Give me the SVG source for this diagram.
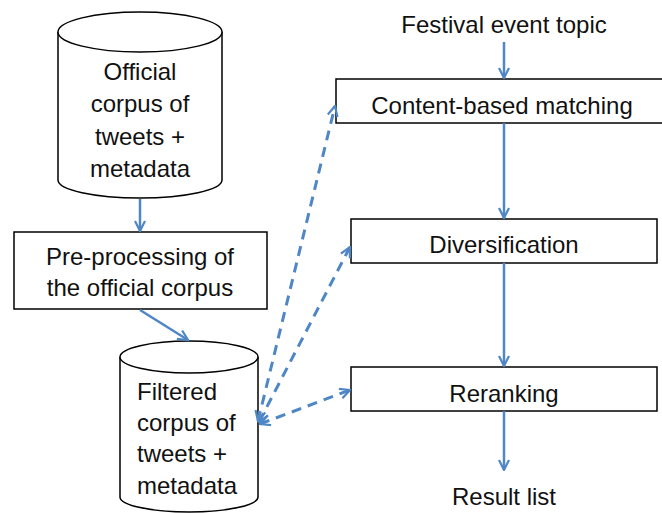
<svg xmlns="http://www.w3.org/2000/svg" width="662" height="513" viewBox="0 0 662 513">
<style>
.t{font-family:"Liberation Sans",Arial,sans-serif;font-size:24px;fill:#111}
.c{text-anchor:middle}
.shape{fill:#fff;stroke:#000;stroke-width:1.5}
.flow{stroke:#4f86c6;stroke-width:2.5;fill:none}
.dash{stroke:#4f86c6;stroke-width:3;fill:none;stroke-dasharray:10 7}
</style>
<defs>
<marker id="ah" viewBox="0 0 12 12" refX="11" refY="6" markerWidth="12" markerHeight="12" markerUnits="userSpaceOnUse" orient="auto-start-reverse">
<path d="M1,1 L11,6 L1,11" fill="none" stroke="#4f86c6" stroke-width="2.2"/>
</marker>
</defs>
<rect width="662" height="513" fill="#fff"/>
<g id="official-corpus">
<path class="shape" d="M58,32 L58,180 A82,18 0 0 0 222,180 L222,32"/>
<ellipse class="shape" cx="140" cy="32" rx="82" ry="20"/>
<text class="t c" x="140" y="80">Official</text>
<text class="t c" x="140" y="112">corpus of</text>
<text class="t c" x="140" y="145">tweets +</text>
<text class="t c" x="140" y="177">metadata</text>
</g>
<g id="preprocessing">
<rect class="shape" x="14" y="232" width="253" height="77"/>
<text class="t c" x="140" y="265">Pre-processing of</text>
<text class="t c" x="140" y="296">the official corpus</text>
</g>
<g id="filtered-corpus">
<path class="shape" d="M120,357 L120,497 A69,15 0 0 0 258,497 L258,357"/>
<ellipse class="shape" cx="189" cy="357" rx="69" ry="16"/>
<text class="t" x="137" y="400">Filtered</text>
<text class="t" x="137" y="431">corpus of</text>
<text class="t" x="137" y="462">tweets +</text>
<text class="t" x="137" y="494">metadata</text>
</g>
<g id="festival-topic">
<text class="t c" x="504" y="33">Festival event topic</text>
</g>
<g id="content-matching">
<rect class="shape" x="336" y="79" width="330" height="44"/>
<text class="t c" x="502" y="114">Content-based matching</text>
</g>
<g id="diversification">
<rect class="shape" x="351" y="219" width="306" height="44"/>
<text class="t c" x="504" y="253">Diversification</text>
</g>
<g id="reranking">
<rect class="shape" x="351" y="367" width="306" height="44"/>
<text class="t c" x="504" y="402">Reranking</text>
</g>
<g id="result-list">
<text class="t c" x="504" y="505">Result list</text>
</g>
<g id="connectors">
<line class="flow" x1="140" y1="199" x2="140" y2="231" marker-end="url(#ah)"/>
<line class="flow" x1="140" y1="310" x2="188" y2="340" marker-end="url(#ah)"/>
<line class="flow" x1="504" y1="42" x2="504" y2="78" marker-end="url(#ah)"/>
<line class="flow" x1="504" y1="123" x2="504" y2="218" marker-end="url(#ah)"/>
<line class="flow" x1="504" y1="263" x2="504" y2="366" marker-end="url(#ah)"/>
<line class="flow" x1="504" y1="411" x2="504" y2="470" marker-end="url(#ah)"/>
<line class="dash" x1="258" y1="421" x2="335" y2="106" marker-start="url(#ah)" marker-end="url(#ah)"/>
<line class="dash" x1="259" y1="422" x2="350" y2="247" marker-start="url(#ah)" marker-end="url(#ah)"/>
<line class="dash" x1="260" y1="424" x2="350" y2="390" marker-start="url(#ah)" marker-end="url(#ah)"/>
</g>
</svg>
